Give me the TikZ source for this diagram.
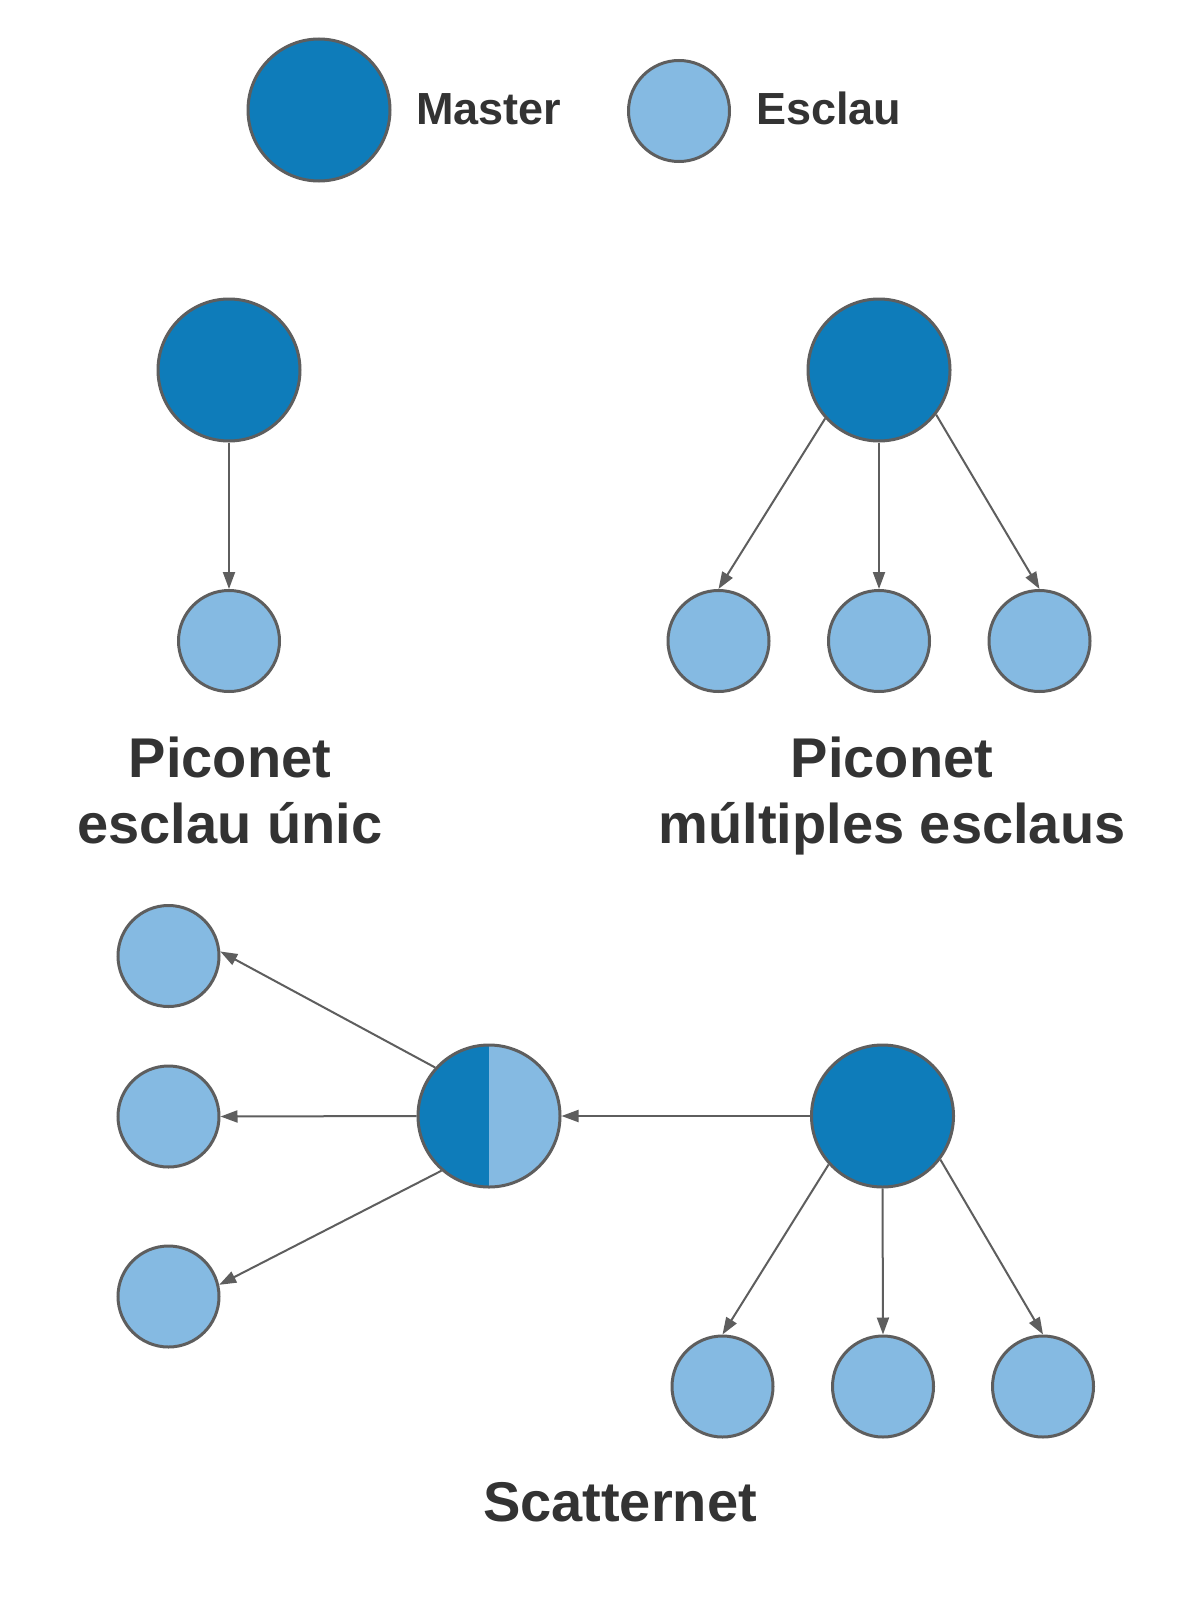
\documentclass[tikz,border=0pt]{standalone}
\usepackage{fontspec}
\setmainfont{Liberation Sans}
\usetikzlibrary{arrows.meta}
\definecolor{mdark}{HTML}{0E7CBA}
\definecolor{slight}{HTML}{85BAE2}
\definecolor{edgegray}{HTML}{5E5E5E}
\definecolor{txt}{HTML}{333333}
\tikzset{
  masternode/.style={circle, draw=edgegray, line width=3pt, fill=mdark, minimum size=142pt, inner sep=0pt},
  slavenode/.style={circle, draw=edgegray, line width=3pt, fill=slight, minimum size=101pt, inner sep=0pt},
  bridgenode/.style={circle, draw=edgegray, line width=3pt, minimum size=142pt, inner sep=0pt,
    path picture={
      \fill[mdark] (path picture bounding box.south west) rectangle (path picture bounding box.north);
      \fill[slight] (path picture bounding box.south) rectangle (path picture bounding box.north east);
    }},
  link/.style={draw=edgegray, line width=2pt, -{Triangle[length=17pt,width=12pt]}},
  legendtxt/.style={text=txt, font=\bfseries\fontsize{45}{54}\selectfont, inner sep=0pt, anchor=base west},
  labeltxt/.style={text=txt, font=\bfseries\fontsize{56}{66}\selectfont, inner sep=0pt, align=center},
}
\begin{document}
\begin{tikzpicture}[x=1pt,y=-1pt]
\useasboundingbox[fill=white] (0,0) rectangle (1194,1616);
% legend
\node[masternode] (lm) at (319,110) {};
\node[legendtxt] (lmt) at (416,125) {Master};
\node[slavenode] (ls) at (679,111) {};
\node[legendtxt] (lst) at (756,125) {Esclau};
% piconet single slave
\node[masternode] (p1m) at (229,370) {};
\node[slavenode] (p1s) at (229,641) {};
\draw[link] (p1m.south) -- (p1s.north);
\node[labeltxt, anchor=north] (p1t) at (230,737) {Piconet\\esclau únic};
% piconet multiple slaves
\node[masternode] (p2m) at (879,370) {};
\node[slavenode] (p2a) at (718.5,641) {};
\node[slavenode] (p2b) at (879,641) {};
\node[slavenode] (p2c) at (1039.5,641) {};
\draw[link] (p2m.222) -- (p2a.north);
\draw[link] (p2m.south) -- (p2b.north);
\draw[link] (p2m.322) -- (p2c.north);
\node[labeltxt, anchor=north] (p2t) at (892,737) {Piconet\\múltiples esclaus};
% scatternet
\node[slavenode] (sa) at (168.5,956) {};
\node[slavenode] (sb) at (168.5,1116.5) {};
\node[slavenode] (sc) at (168.5,1296.5) {};
\node[bridgenode] (br) at (489,1116) {};
\node[masternode] (sm) at (882.5,1116) {};
\node[slavenode] (sd) at (722.5,1386.5) {};
\node[slavenode] (se) at (883,1386.5) {};
\node[slavenode] (sf) at (1043,1386.5) {};
\draw[link] (br.138) -- (sa.5);
\draw[link] (br.west) -- (sb.east);
\draw[link] (br.229) -- (sc.13);
\draw[link] (sm.west) -- (br.east);
\draw[link] (sm.222) -- (sd.north);
\draw[link] (sm.south) -- (se.north);
\draw[link] (sm.323) -- (sf.north);
\node[labeltxt, anchor=base] (st) at (620,1521) {Scatternet};
\end{tikzpicture}
\end{document}
